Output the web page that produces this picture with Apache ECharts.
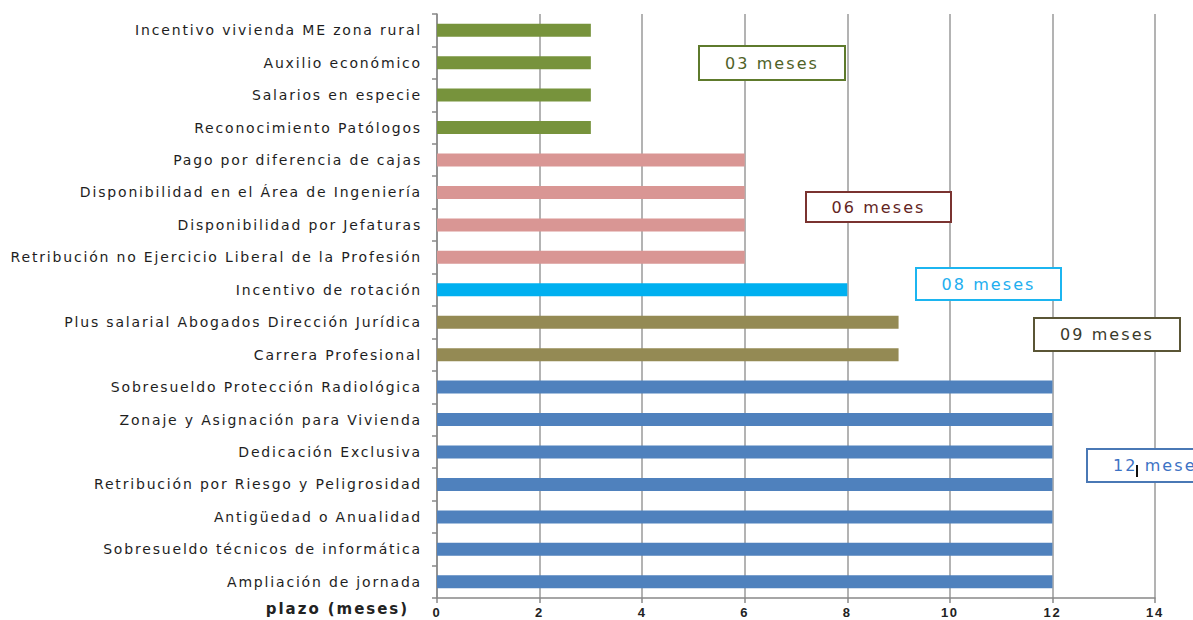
<!DOCTYPE html>
<html><head><meta charset="utf-8">
<script src="https://cdn.jsdelivr.net/npm/echarts@6/dist/echarts.min.js"></script>
<style>
html,body{margin:0;padding:0;background:#fff;}
#chart{width:1193px;height:620px;}
#chart text{letter-spacing:0.13em;}
</style></head>
<body><div id="chart"></div>
<script>
const categories = [
  "Incentivo vivienda ME zona rural",
  "Auxilio económico",
  "Salarios en especie",
  "Reconocimiento Patólogos",
  "Pago por diferencia de cajas",
  "Disponibilidad en el Área de Ingeniería",
  "Disponibilidad por Jefaturas",
  "Retribución no Ejercicio Liberal de la Profesión",
  "Incentivo de rotación",
  "Plus salarial Abogados Dirección Jurídica",
  "Carrera Profesional",
  "Sobresueldo Protección Radiológica",
  "Zonaje y Asignación para Vivienda",
  "Dedicación Exclusiva",
  "Retribución por Riesgo y Peligrosidad",
  "Antigüedad o Anualidad",
  "Sobresueldo técnicos de informática",
  "Ampliación de jornada"
];
const plazoMeses = [3,3,3,3,6,6,6,6,8,9,9,12,12,12,12,12,12,12];
const axisTitle = "plazo (meses)";
const boxLabels = ["03 meses","06 meses","08 meses","09 meses","12 meses"];

const barColors = {3:"#77933C",6:"#D99694",8:"#00B0F0",9:"#948A54",12:"#4F81BD"};
const boxStyles = [
  {x:699,y:46,w:146,h:34,stroke:"#5E7A2C",fill:"#4F6228"},
  {x:806,y:192,w:145,h:30,stroke:"#7A3330",fill:"#632523"},
  {x:916,y:268,w:145,h:32,stroke:"#1CB5F0",fill:"#22AEEF"},
  {x:1034,y:318,w:146,h:33,stroke:"#5A5535",fill:"#3A3A2A"},
  {x:1087,y:449,w:146,h:33,stroke:"#4A78B5",fill:"#3C72C4"}
];

const chart = echarts.init(document.getElementById('chart'), null, {renderer:'svg'});
const graphics = [];
boxLabels.forEach((t,i)=>{
  const s = boxStyles[i];
  graphics.push({type:'rect',shape:{x:s.x,y:s.y,width:s.w,height:s.h},
    style:{fill:'#fff',stroke:s.stroke,lineWidth:2},z:10});
  graphics.push({type:'text',x:s.x+s.w/2,y:s.y+s.h/2,
    style:{text:t,fill:s.fill,font:'16px "DejaVu Sans"',align:'center',verticalAlign:'middle'},z:11});
});
// text caret visible inside the last box
graphics.push({type:'line',shape:{x1:1137,y1:465,x2:1137,y2:477},style:{stroke:'#111',lineWidth:2},z:12});

chart.setOption({
  animation:false,
  grid:{left:437,right:38,top:14,bottom:22,containLabel:false},
  xAxis:{type:'value',min:0,max:14,interval:2,
    name:axisTitle,nameLocation:'start',nameGap:28,
    nameTextStyle:{fontFamily:'DejaVu Sans',fontSize:15,fontWeight:'bold',color:'#222',verticalAlign:'top',padding:[3,0,0,0]},
    axisLine:{show:true,lineStyle:{color:'#888',width:1.5}},
    axisTick:{show:true,length:5,lineStyle:{color:'#888',width:1.5}},
    axisLabel:{fontFamily:'Liberation Sans',fontSize:13,fontWeight:'bold',color:'#222',margin:8},
    splitLine:{show:true,lineStyle:{color:'#9a9a9a',width:1.5}}
  },
  yAxis:{type:'category',data:categories,inverse:true,
    axisLine:{show:true,lineStyle:{color:'#888',width:1.5}},
    axisTick:{show:true,length:5,lineStyle:{color:'#888',width:1.5}},
    axisLabel:{fontFamily:'DejaVu Sans',fontSize:14,color:'#1e1e1e',margin:15},
    splitLine:{show:false}
  },
  series:[{type:'bar',data:plazoMeses,barWidth:13,
    itemStyle:{color:p=>barColors[p.value]}}],
  graphic:graphics
});
</script></body></html>
